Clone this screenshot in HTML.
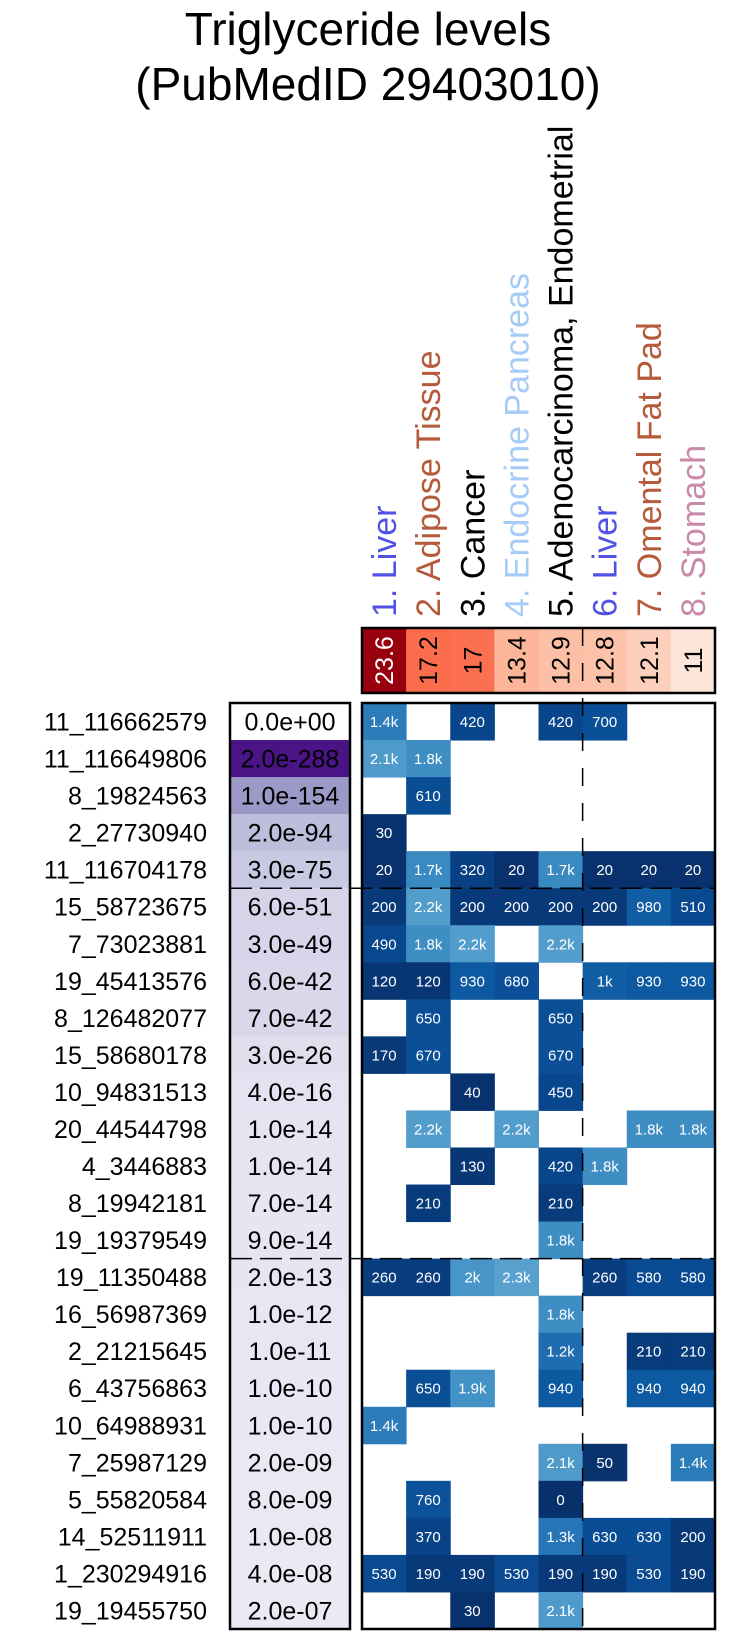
<!DOCTYPE html>
<html><head><meta charset="utf-8"><style>
html,body{margin:0;padding:0;background:#fff;}
svg{display:block;font-family:"Liberation Sans",Arial,sans-serif;}
</style></head><body>
<svg id="chart" width="731" height="1636" viewBox="0 0 731 1636" xmlns="http://www.w3.org/2000/svg">
<text x="368" y="45" font-size="46" text-anchor="middle">Triglyceride levels</text>
<text x="368" y="100" font-size="46" text-anchor="middle">(PubMedID 29403010)</text>
<g id="g"></g>
</svg>
<script>
const columns = ["1. Liver","2. Adipose Tissue","3. Cancer","4. Endocrine Pancreas","5. Adenocarcinoma, Endometrial","6. Liver","7. Omental Fat Pad","8. Stomach"];
const columnColors = ["#5151e6","#b55a3a","#000000","#a6cbf7","#000000","#5151e6","#b55a3a","#c98aa8"];
const columnScores = [23.6,17.2,17,13.4,12.9,12.8,12.1,11];
const rowLabels = ["11_116662579","11_116649806","8_19824563","2_27730940","11_116704178","15_58723675","7_73023881","19_45413576","8_126482077","15_58680178","10_94831513","20_44544798","4_3446883","8_19942181","19_19379549","19_11350488","16_56987369","2_21215645","6_43756863","10_64988931","7_25987129","5_55820584","14_52511911","1_230294916","19_19455750"];
const pvalText = ["0.0e+00","2.0e-288","1.0e-154","2.0e-94","3.0e-75","6.0e-51","3.0e-49","6.0e-42","7.0e-42","3.0e-26","4.0e-16","1.0e-14","1.0e-14","7.0e-14","9.0e-14","2.0e-13","1.0e-12","1.0e-11","1.0e-10","1.0e-10","2.0e-09","8.0e-09","1.0e-08","4.0e-08","2.0e-07"];
const pvalLog = [0,288,154,94,75,51,49,42,42,26,16,14,14,13,13,13,12,11,10,10,9,8,8,7,7];
const N = null;
const cellValues = [
[1400,N,420,N,420,700,N,N],
[2100,1800,N,N,N,N,N,N],
[N,610,N,N,N,N,N,N],
[30,N,N,N,N,N,N,N],
[20,1700,320,20,1700,20,20,20],
[200,2200,200,200,200,200,980,510],
[490,1800,2200,N,2200,N,N,N],
[120,120,930,680,N,1000,930,930],
[N,650,N,N,650,N,N,N],
[170,670,N,N,670,N,N,N],
[N,N,40,N,450,N,N,N],
[N,2200,N,2200,N,N,1800,1800],
[N,N,130,N,420,1800,N,N],
[N,210,N,N,210,N,N,N],
[N,N,N,N,1800,N,N,N],
[260,260,2000,2300,N,260,580,580],
[N,N,N,N,1800,N,N,N],
[N,N,N,N,1200,N,210,210],
[N,650,1900,N,940,N,940,940],
[1400,N,N,N,N,N,N,N],
[N,N,N,N,2100,50,N,1400],
[N,760,N,N,0,N,N,N],
[N,370,N,N,1300,630,630,200],
[530,190,190,530,190,190,530,190],
[N,N,30,N,2100,N,N,N]
];
const dashRows = [5,15];
const dashCol = 5;

const NS="http://www.w3.org/2000/svg";
const g=document.getElementById('g');
const X0=362,X1=715,Y0=703,Y1=1629,PX0=230,PX1=350,SY0=628,SY1=693;
const colW=(X1-X0)/columns.length, rowH=(Y1-Y0)/rowLabels.length;
const xS=i=>X0+i*colW, yS=r=>Y0+r*rowH;
function mk(t,a){const e=document.createElementNS(NS,t);for(const k in a)e.setAttribute(k,a[k]);g.appendChild(e);return e;}
function hex(h){return [1,3,5].map(i=>parseInt(h.substr(i,2),16));}
function interp(stops,t){t=Math.max(0,Math.min(1,t));for(let i=1;i<stops.length;i++){if(t<=stops[i][0]){const a=stops[i-1],b=stops[i];const f=(t-a[0])/(b[0]-a[0]||1);const ca=hex(a[1]),cb=hex(b[1]);return 'rgb('+ca.map((c,j)=>Math.round(c+(cb[j]-c)*f)).join(',')+')';}}return stops[stops.length-1][1];}
const blues=[[0,"#08306b"],[0.2,"#08478e"],[0.4,"#0c58a1"],[0.6,"#2b7bba"],[0.8,"#4090c5"],[1,"#58a1cf"]];
const reds=[[0,"#fee5d9"],[0.1,"#fdcdb9"],[0.2,"#fcb395"],[0.5,"#fb6a4a"],[1,"#99000d"]];
const purples=[[0,"#f0eef6"],[0.05,"#e6e4f1"],[0.27,"#c8c8e2"],[0.33,"#bcbddc"],[0.53,"#9e9ac8"],[1,"#4a1486"]];
function fmt(v){if(v>=1000){let s=(Math.round(v/100)/10).toString();return s+'k';}return String(v);}

columns.forEach((c,i)=>{const cx=xS(i)+colW/2+12;
 const t=mk('text',{x:cx,y:617,'font-size':34,fill:columnColors[i],transform:'rotate(-90 '+cx+' 617)'});
 
 
 t.textContent=c;});
const smin=Math.min(...columnScores),smax=Math.max(...columnScores);
columnScores.forEach((v,i)=>{const r=mk('rect',{x:xS(i),y:SY0,width:colW+0.5,height:SY1-SY0,fill:interp(reds,(v-smin)/(smax-smin))});
 
 
 const cx=xS(i)+colW/2+9,cy=(SY0+SY1)/2;
 const t=mk('text',{x:cx,y:cy,'font-size':25,'text-anchor':'middle',fill:i===0?'#fff':'#000',transform:'rotate(-90 '+cx+' '+cy+')'});
 
 
 t.textContent=String(v);});
rowLabels.forEach((lab,r)=>{const cy=yS(r)+rowH/2;
 const t=mk('text',{x:207,y:cy+9,'font-size':25,'text-anchor':'end'});
 
 
 t.textContent=lab;
 const pr=mk('rect',{x:PX0,y:yS(r),width:PX1-PX0,height:rowH+0.5,fill:pvalLog[r]===0?'#ffffff':interp(purples,pvalLog[r]/288)});
 
 
 const pt=mk('text',{x:(PX0+PX1)/2,y:cy+9,'font-size':25,'text-anchor':'middle'});
 
 
 pt.textContent=pvalText[r];
 cellValues[r].forEach((v,c)=>{if(v===null)return;
  const cr=mk('rect',{x:xS(c),y:yS(r),width:colW+0.5,height:rowH+0.5,fill:interp(blues,v/2300)});
  
  
  const ct=mk('text',{x:xS(c)+colW/2,y:cy+5.5,'font-size':15,'text-anchor':'middle',fill:'#fff'});
  
  
  ct.textContent=fmt(v);});
});
const vl=mk('line',{x1:xS(dashCol),x2:xS(dashCol),y1:SY0,y2:Y1,stroke:'#000','stroke-width':1.5,'stroke-dasharray':'18,17'});


dashRows.forEach(r=>{const hl=mk('line',{x1:PX0,x2:X1,y1:yS(r),y2:yS(r),stroke:'#000','stroke-width':1.5,'stroke-dasharray':'22,8'});
 
 });
[[X0,SY0,X1-X0,SY1-SY0,'score-strip-border'],[PX0,Y0,PX1-PX0,Y1-Y0,'pvalue-box-border'],[X0,Y0,X1-X0,Y1-Y0,'heatmap-border']].forEach(b=>{
 const r=mk('rect',{x:b[0],y:b[1],width:b[2],height:b[3],fill:'none',stroke:'#000','stroke-width':2.5});
 
 });
</script>
</body></html>
